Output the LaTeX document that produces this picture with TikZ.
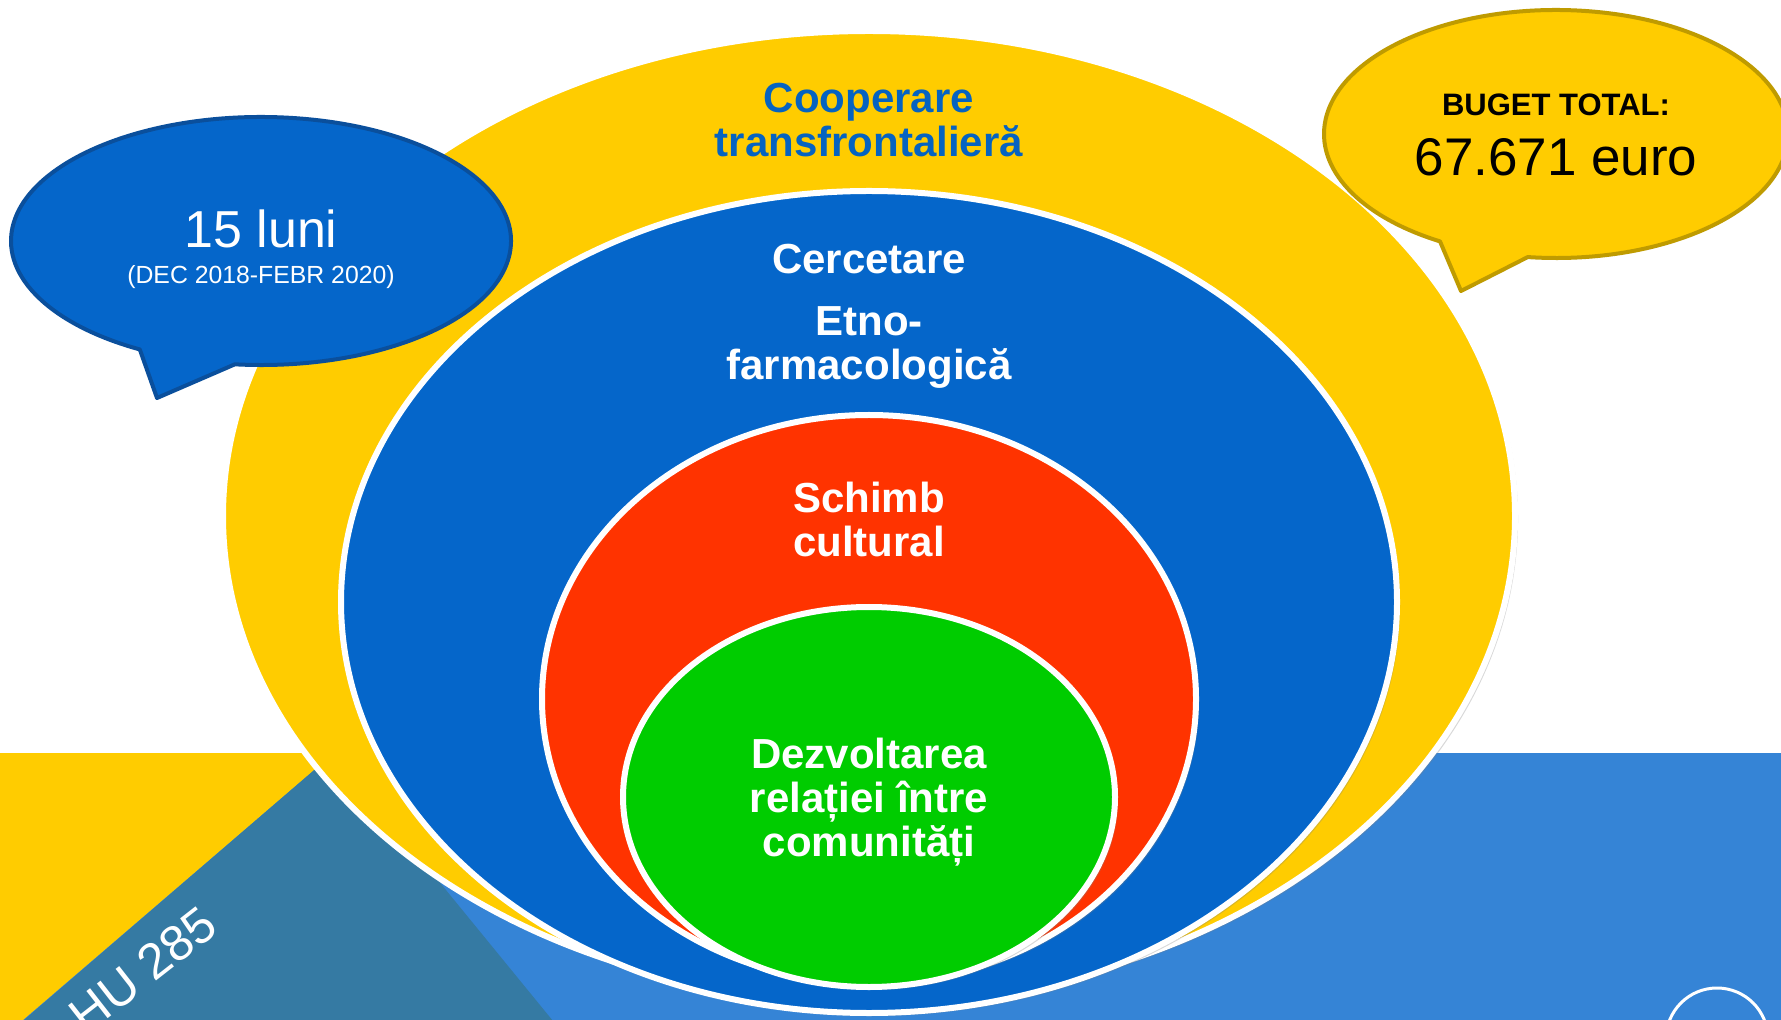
\documentclass[tikz,border=0pt]{standalone}
\usepackage{fontspec}
\setmainfont{Liberation Sans}
\usetikzlibrary{calc,shadows}

\definecolor{sunyellow}{HTML}{FFCC00}
\definecolor{deepblue}{HTML}{0566CA}
\definecolor{firered}{HTML}{FF3300}
\definecolor{leafgreen}{HTML}{00CC00}
\definecolor{skyband}{HTML}{3584D6}
\definecolor{tealband}{HTML}{357AA3}
\definecolor{titleblue}{HTML}{0563C1}
\definecolor{bubbleedge}{HTML}{0A4F9C}
\definecolor{goldedge}{HTML}{BF9B00}

\begin{document}
\begin{tikzpicture}[x=0.5pt, y=-0.5pt,
  ring/.style={draw=white, line width=3pt,
    drop shadow={opacity=0.3, shadow xshift=1.5pt, shadow yshift=-1.5pt}},
  ringtext/.style={font=\bfseries\fontsize{21}{22}\selectfont, text=white, align=center},
  bluebubble/.style={draw=bubbleedge, fill=deepblue, line width=2pt, line join=round},
  goldbubble/.style={draw=goldedge, fill=sunyellow, line width=2pt, line join=round}]
  \useasboundingbox (0,0) rectangle (1781,1020);
  \clip (0,0) rectangle (1781,1020);
  \fill[white] (0,0) rectangle (1781,1020);

  \fill[skyband] (0,753) rectangle (1781,1020);
  \fill[sunyellow] (0,753) -- (334,753) -- (23,1020) -- (0,1020) -- cycle;
  \fill[tealband] (334,753) -- (553,1021) -- (23,1021) -- cycle;
  \node[rotate=38, text=white, font=\fontsize{25}{25}\selectfont] (code) at (143,970) {HU 285};
  \draw[white, line width=1.5pt] (1717,1039) circle (51);

  \coordinate (O) at (869,0);
  \draw[ring, fill=sunyellow] (869,516) ellipse [x radius=646, y radius=485];
  \draw[ring, fill=deepblue] (869,602) ellipse [x radius=528, y radius=411];
  \draw[ring, fill=firered] (869,699) ellipse [x radius=327, y radius=284];
  \draw[ring, fill=leafgreen] (869,797) ellipse [x radius=246, y radius=190];

  \node[ringtext, text=titleblue] (coop) at (869,120) {Cooperare\\transfrontalieră};
  \node[ringtext] (cerc) at (869,259) {Cercetare};
  \node[ringtext] (etno) at (869,348) {Etno-\\farmacologică};
  \node[ringtext] (schimb) at (869,519) {Schimb\\cultural};
  \node[ringtext] (dezv) at (869,802) {Dezvoltarea\\relației între\\comunități};

  \coordinate (B) at (261,241);
  \draw[bluebubble] (B) ++(119:250 and 124) -- (157,398)
    -- ([shift={(96:250 and 124)}]B)
    arc[start angle=96, end angle=-241, x radius=250, y radius=124] -- cycle;
  \node[text=white, font=\fontsize{26}{26}\selectfont] (luni) at (261,229) {15 luni};
  \node[text=white, font=\fontsize{12.4}{13}\selectfont] (per) at (261,277) {(DEC 2018-FEBR 2020)};

  \coordinate (G) at (1556,134);
  \draw[goldbubble] (G) ++(120:232 and 124) -- (1461,291)
    -- ([shift={(97:232 and 124)}]G)
    arc[start angle=97, end angle=-240, x radius=232, y radius=124] -- cycle;
  \node[font=\bfseries\fontsize{15.5}{16}\selectfont] (buget) at (1556,105) {BUGET TOTAL:};
  \node[font=\fontsize{26.5}{27}\selectfont] (suma) at (1556,157) {67.671 euro};
\end{tikzpicture}
\end{document}
